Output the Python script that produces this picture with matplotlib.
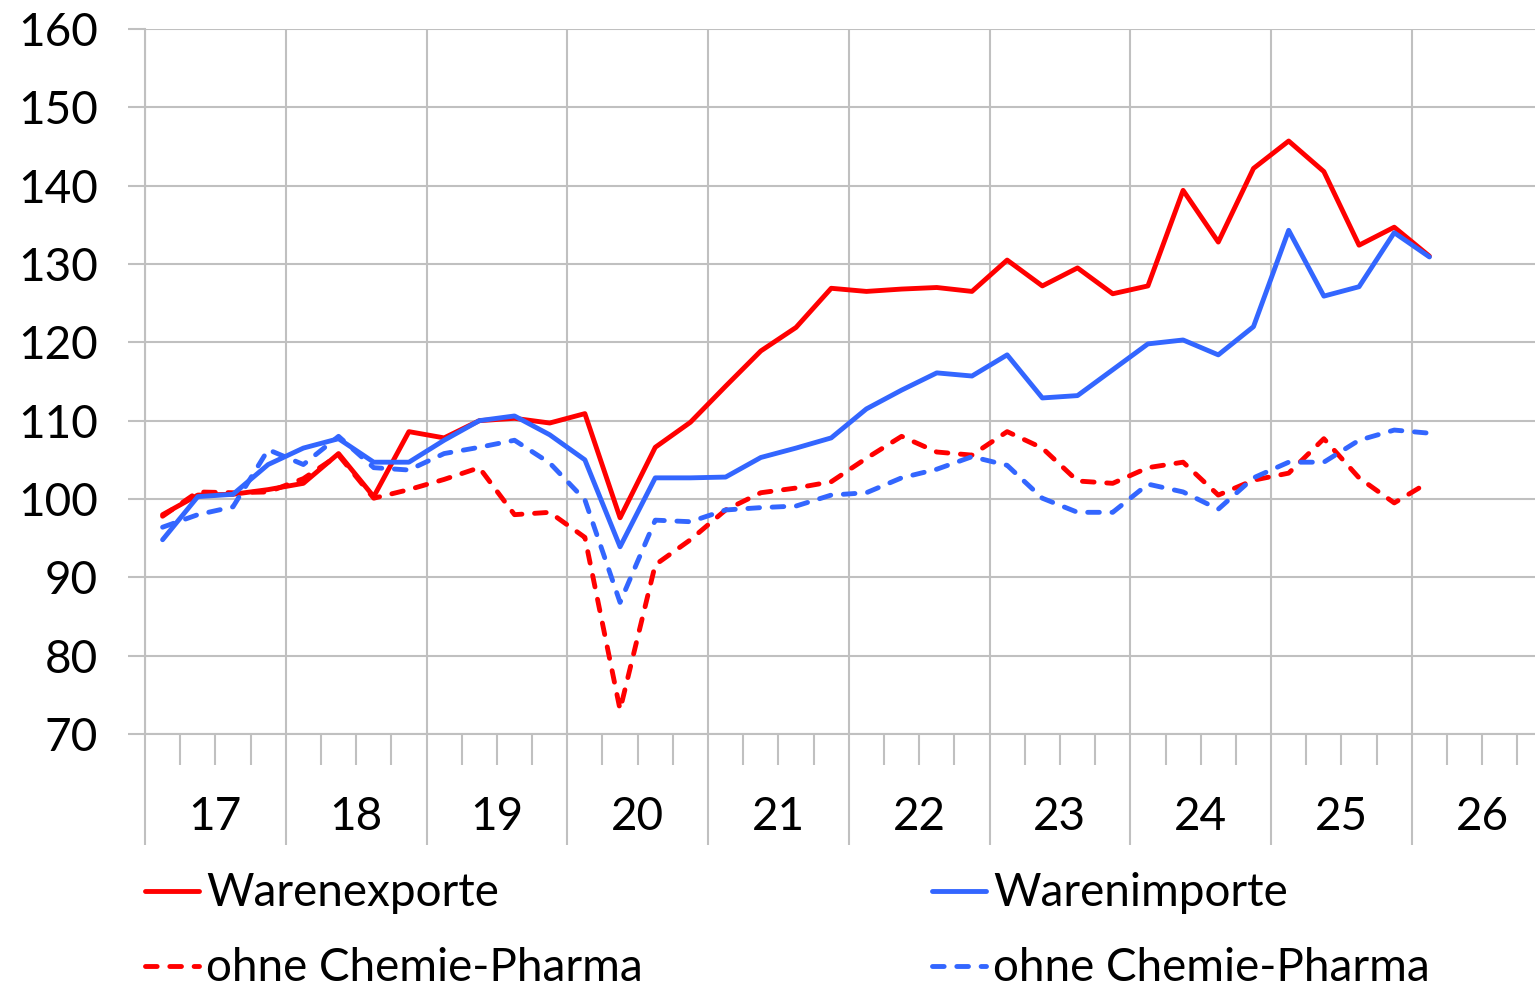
import numpy as np
import matplotlib
matplotlib.use("Agg")
import matplotlib.pyplot as plt
from matplotlib.lines import Line2D

# ---------------- data ----------------
years = ["17", "18", "19", "20", "21", "22", "23", "24", "25", "26"]
quarter_index = np.arange(37)  # 2017Q1 ... 2026Q1

exports = [98.0, 100.5, 100.6, 101.2, 102.0, 105.8, 100.3, 108.6, 107.8, 110.0,
           110.3, 109.7, 110.9, 97.6, 106.6, 109.8, 114.4, 118.9, 121.9, 126.9,
           126.5, 126.8, 127.0, 126.5, 130.5, 127.2, 129.5, 126.2, 127.2, 139.4,
           132.8, 142.2, 145.7, 141.8, 132.4, 134.7, 131.0]
imports = [94.8, 100.3, 100.6, 104.4, 106.5, 107.7, 104.7, 104.7, 107.5, 110.0,
           110.6, 108.2, 105.0, 93.9, 102.7, 102.7, 102.8, 105.3, 106.5, 107.8,
           111.5, 113.9, 116.1, 115.7, 118.4, 112.9, 113.2, 116.5, 119.8, 120.3,
           118.4, 122.0, 134.3, 125.9, 127.1, 134.0, 130.9]
exports_ex = [97.8, 100.9, 100.8, 100.9, 102.6, 105.6, 100.1, 101.2, 102.5, 104.0,
              98.0, 98.3, 95.1, 73.1, 91.6, 94.8, 98.6, 100.8, 101.4, 102.2,
              105.2, 108.0, 106.0, 105.6, 108.6, 106.5, 102.3, 102.0, 104.0, 104.7,
              100.5, 102.4, 103.3, 107.7, 102.7, 99.5, 102.2]
imports_ex = [96.4, 98.0, 99.0, 106.3, 104.4, 108.0, 104.0, 103.7, 105.8, 106.6,
              107.5, 104.6, 99.9, 86.8, 97.3, 97.1, 98.6, 98.9, 99.1, 100.5,
              100.8, 102.7, 103.8, 105.4, 104.3, 100.1, 98.3, 98.3, 101.9, 100.9,
              98.7, 102.7, 104.7, 104.7, 107.5, 108.8, 108.4]
labels = ["Warenexporte", "Warenimporte", "ohne Chemie-Pharma", "ohne Chemie-Pharma"]

# ---------------- style ----------------
plt.rcParams['font.family'] = ['Lato', 'DejaVu Sans']
RED = "#FF0000"
BLUE = "#3366FF"
GRID = "#C0C0C0"
FS = 33
LW = 3.5
DASH = (0, (2.4, 2.6))

W, H = 1535, 988
fig = plt.figure(figsize=(W / 100, H / 100), dpi=100)
ax = fig.add_axes([145 / W, 1 - 734 / H, (W - 145) / W, (734 - 29) / H])

x = quarter_index + 0.5
ax.plot(x, exports, color=RED, lw=LW, solid_joinstyle='round', solid_capstyle='round', zorder=3)
ax.plot(x, imports, color=BLUE, lw=LW, solid_joinstyle='round', solid_capstyle='round', zorder=4)
ax.plot(x, exports_ex, color=RED, lw=LW, linestyle=DASH, dash_capstyle='round', zorder=3)
ax.plot(x, imports_ex, color=BLUE, lw=LW, linestyle=DASH, dash_capstyle='round', zorder=4)

ax.set_xlim(0, 39.5)
ax.set_ylim(70, 160)

# y axis
ax.set_yticks(np.arange(70, 161, 10))
ax.tick_params(axis='y', direction='out', length=12, width=1.5, color=GRID,
               pad=22, labelsize=FS, labelcolor='black')
# x axis: year boundaries (long ticks) and quarter ticks (short)
ax.set_xticks(np.arange(0, 37, 4))
ax.set_xticks([q for q in range(0, 40) if q % 4 != 0], minor=True)
ax.tick_params(axis='x', which='major', direction='out', length=80, width=1.5,
               color=GRID, labelbottom=False)
ax.tick_params(axis='x', which='minor', direction='out', length=22, width=1.5,
               color=GRID)
ax.grid(True, which='major', color=GRID, lw=1.5, zorder=0)

for s in ['top', 'right']:
    ax.spines[s].set_visible(False)
for s in ['left', 'bottom']:
    ax.spines[s].set_color(GRID)
    ax.spines[s].set_linewidth(1.5)

trans = ax.get_xaxis_transform()
for i, yl in enumerate(years):
    ax.text(4 * i + 2, -(817 - 734) / 705, yl, transform=trans, ha='center',
            va='center', fontsize=FS, color='black')

# legend (manual, figure coordinates)
def fx(px):
    return px / W

def fy(py):
    return 1 - py / H

entries = [
    (143, 891, RED, '-', labels[0]),
    (930, 891, BLUE, '-', labels[1]),
    (143, 966, RED, DASH, labels[2]),
    (930, 966, BLUE, DASH, labels[3]),
]
for x0, y0, col, ls, lab in entries:
    fig.add_artist(Line2D([fx(x0 + 2), fx(x0 + 56)], [fy(y0), fy(y0)], color=col,
                          lw=LW, linestyle=ls, solid_capstyle='round',
                          dash_capstyle='round'))
    fig.text(fx(x0 + 63), fy(y0 + 2), lab, ha='left', va='center', fontsize=FS,
             color='black')

fig.savefig("out.png", dpi=100)
